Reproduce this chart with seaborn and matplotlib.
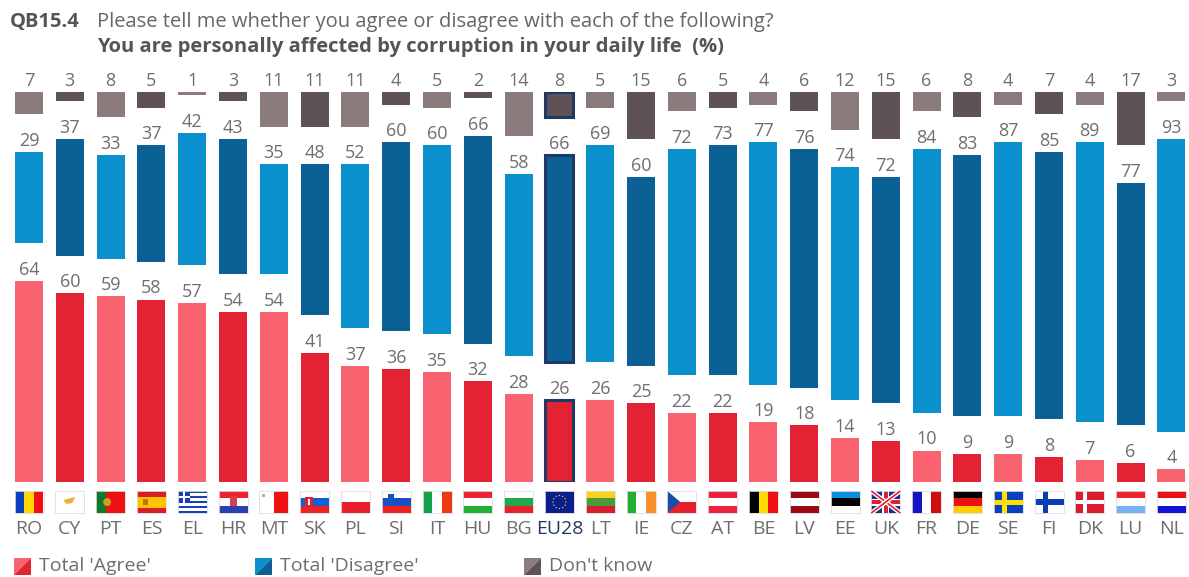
import numpy as np
import pandas as pd
import matplotlib
matplotlib.use("Agg")
import matplotlib.pyplot as plt
from matplotlib.patches import Rectangle, Polygon, Circle
import seaborn as sns

countries = ["RO", "CY", "PT", "ES", "EL", "HR", "MT", "SK", "PL", "SI", "IT", "HU", "BG", "EU28", "LT",
             "IE", "CZ", "AT", "BE", "LV", "EE", "UK", "FR", "DE", "SE", "FI", "DK", "LU", "NL"]
agree = [64, 60, 59, 58, 57, 54, 54, 41, 37, 36, 35, 32, 28, 26, 26, 25, 22, 22, 19, 18, 14, 13, 10, 9, 9, 8, 7, 6, 4]
disagree = [29, 37, 33, 37, 42, 43, 35, 48, 52, 60, 60, 66, 58, 66, 69, 60, 72, 73, 77, 76, 74, 72, 84, 83, 87, 85, 89, 77, 93]
dont_know = [7, 3, 8, 5, 1, 3, 11, 11, 11, 4, 5, 2, 14, 8, 5, 15, 6, 5, 4, 6, 12, 15, 6, 8, 4, 7, 4, 17, 3]

# gap between the three blocks of every column, in percentage points
GAP = 12
TOP = 100 + 2 * GAP

RED = ["#F9636F", "#E32233"]
BLUE = ["#0A90CC", "#0B6096"]
GREY = ["#8C7B7D", "#5E5257"]
NAVY = "#1F3864"
TEXT = "#6E6E6E"

# plain striped flags: direction and colours
stripes = {
    "RO": ("v", ["#0A3FBF", "#FFD800", "#EE1111"]),
    "PT": ("v", ["#11772D", "#EE1111", "#EE1111"]),
    "ES": ("h", ["#D81E28", "#FFC400", "#FFC400", "#D81E28"]),
    "HR": ("h", ["#EE2233", "#FFFFFF", "#2A3FB0"]),
    "MT": ("v", ["#FFFFFF", "#EE1111"]),
    "SK": ("h", ["#FFFFFF", "#1060D8", "#EE2222"]),
    "PL": ("h", ["#FFFFFF", "#E8202E"]),
    "SI": ("h", ["#FFFFFF", "#1A4FC0", "#EE2222"]),
    "IT": ("v", ["#12A24A", "#FFFFFF", "#EE3A12"]),
    "HU": ("h", ["#EE2233", "#FFFFFF", "#22B030"]),
    "BG": ("h", ["#FFFFFF", "#22A84A", "#E82030"]),
    "LT": ("h", ["#F7D417", "#4A9A3A", "#D81E2E"]),
    "IE": ("v", ["#22B030", "#FFFFFF", "#F7902A"]),
    "CZ": ("h", ["#FFFFFF", "#E8202E"]),
    "AT": ("h", ["#EE2040", "#FFFFFF", "#EE2040"]),
    "BE": ("v", ["#000000", "#FFDD00", "#EE1111"]),
    "LV": ("h", ["#9A0A14", "#FFFFFF", "#9A0A14"]),
    "EE": ("h", ["#0A90E0", "#000000", "#FFFFFF"]),
    "FR": ("v", ["#1414C0", "#FFFFFF", "#CC1010"]),
    "DE": ("h", ["#000000", "#EE1111", "#FFCC00"]),
    "LU": ("h", ["#EE2233", "#FFFFFF", "#7AB0F5"]),
    "NL": ("h", ["#EE1111", "#FFFFFF", "#1414D8"]),
}

sns.set_style("white")
plt.rcParams["font.family"] = ["Open Sans", "DejaVu Sans"]

W, H = 1189, 577
fig = plt.figure(figsize=(W / 100, H / 100), dpi=100, facecolor="white")

# column axes: baseline at y=482px, top at y=92px, first column at x=29px, step 40.8px
STEP = 40.8
X0 = 29
ax = fig.add_axes([0, (H - 482) / H, 1, 390 / H])
df = pd.DataFrame({"country": countries, "agree": agree, "disagree": disagree, "dont_know": dont_know})

bottoms = [None, df["agree"] + GAP, TOP - df["dont_know"]]
blocks = ["agree", "disagree", "dont_know"]
for col, bottom in zip(blocks, bottoms):
    kws = {} if bottom is None else {"bottom": bottom.to_numpy()}
    sns.barplot(data=df, x="country", y=col, color=RED[0], width=28 / STEP, saturation=1, errorbar=None, ax=ax, **kws)

for container, pal, col in zip(ax.containers, [RED, BLUE, GREY], blocks):
    for i, bar in enumerate(container):
        bar.set_facecolor(pal[i % 2])
        bar.set_linewidth(0)
        if countries[i] == "EU28":
            bar.set_edgecolor(NAVY)
            bar.set_linewidth(2.2)
    # bar_label would show the stacked total, so hand it the plain values
    ax.bar_label(container, labels=[str(v) for v in df[col]], padding=1.5, fontsize=13, color=TEXT, clip_on=False)

ax.set_xlim(-X0 / STEP, (W - X0) / STEP)
ax.set_ylim(0, TOP)
ax.set_xlabel("")
ax.set_ylabel("")
ax.set_yticks([])
ax.set_xticks(range(len(countries)), countries, fontsize=14, color=TEXT)
ax.tick_params(axis="x", length=0, pad=27)
ax.get_xticklabels()[countries.index("EU28")].set_color(NAVY)
sns.despine(ax=ax, left=True, bottom=True)
ax.patch.set_alpha(0)

# overlay in pixel coordinates for flags, heading and legend
ov = fig.add_axes([0, 0, 1, 1], zorder=5)
ov.set_xlim(0, W)
ov.set_ylim(H, 0)
ov.axis("off")

FW, FH = 29, 22
FY = 491


def rect(x, y, w, h, c):
    ov.add_patch(Rectangle((x, y), w, h, facecolor=c, edgecolor="none"))


def draw_flag(code, x):
    y = FY
    if code in stripes:
        kind, cols = stripes[code]
        n = len(cols)
        for k, c in enumerate(cols):
            if kind == "h":
                rect(x, y + k * FH / n, FW, FH / n, c)
            else:
                rect(x + k * FW / n, y, FW / n, FH, c)
    if code == "CY":
        rect(x, y, FW, FH, "#FFFFFF")
        ov.add_patch(Polygon([(x + 8, y + 9), (x + 20, y + 6), (x + 17, y + 12), (x + 11, y + 13)], facecolor="#E8B23A", edgecolor="none"))
    elif code == "PT":
        ov.add_patch(Circle((x + 11, y + FH / 2), 4, facecolor="#C9A020", edgecolor="none"))
    elif code == "ES":
        rect(x + 6, y + 8, 5, 6, "#C8701E")
    elif code == "EL":
        for k in range(9):
            rect(x, y + k * FH / 9, FW, FH / 9, "#1A3FB8" if k % 2 == 0 else "#FFFFFF")
        rect(x, y, 12, 12, "#1A3FB8")
        rect(x + 5, y, 2.4, 12, "#FFFFFF")
        rect(x, y + 5, 12, 2.4, "#FFFFFF")
    elif code == "HR":
        rect(x + 11, y + 5, 7, 10, "#D84050")
    elif code == "MT":
        rect(x + 3, y + 3, 3, 3, "#B0B0B0")
    elif code == "SK":
        rect(x + 5, y + 6, 8, 10, "#E02030")
        rect(x + 8, y + 8, 2, 6, "#FFFFFF")
    elif code == "SI":
        rect(x + 6, y + 3, 6, 6, "#1A4FC0")
    elif code == "CZ":
        ov.add_patch(Polygon([(x, y), (x + 13, y + FH / 2), (x, y + FH)], facecolor="#1A4FA8", edgecolor="none"))
    elif code == "EU28":
        rect(x, y, FW, FH, "#0A1F8C")
        for a in np.arange(0, 360, 30):
            ov.add_patch(Circle((x + FW / 2 + 6.5 * np.cos(np.radians(a)), y + FH / 2 + 6.5 * np.sin(np.radians(a))), 0.7, facecolor="#E8D030", edgecolor="none"))
    elif code == "UK":
        rect(x, y, FW, FH, "#1A2F8C")
        for seg in [((x, y), (x + FW, y + FH)), ((x + FW, y), (x, y + FH))]:
            ov.plot(*zip(*seg), color="#FFFFFF", lw=3.2, solid_capstyle="butt")
            ov.plot(*zip(*seg), color="#E02030", lw=1.2, solid_capstyle="butt")
        rect(x + 11, y, 7, FH, "#FFFFFF")
        rect(x, y + 7.5, FW, 7, "#FFFFFF")
        rect(x + 12.5, y, 4, FH, "#E02030")
        rect(x, y + 9, FW, 4, "#E02030")
    elif code == "SE":
        rect(x, y, FW, FH, "#0A3FC0")
        rect(x + 8, y, 5, FH, "#FFE000")
        rect(x, y + 8.5, FW, 5, "#FFE000")
    elif code == "FI":
        rect(x, y, FW, FH, "#FFFFFF")
        rect(x + 8, y, 5.5, FH, "#0A3FB0")
        rect(x, y + 8, FW, 5.5, "#0A3FB0")
    elif code == "DK":
        rect(x, y, FW, FH, "#D81E2E")
        rect(x + 8, y, 3.5, FH, "#FFFFFF")
        rect(x, y + 9, FW, 3.5, "#FFFFFF")
    # thin frame so that white parts stay visible
    ov.add_patch(Rectangle((x, y), FW, FH, facecolor="none", edgecolor="#DDDDDD", lw=0.6))


for i, code in enumerate(countries):
    draw_flag(code, X0 + STEP * i - FW / 2)

# heading
ov.text(10, 22, "QB15.4", fontsize=14.5, fontweight="bold", color="#555555", va="center")
ov.text(97, 22, "Please tell me whether you agree or disagree with each of the following?", fontsize=14.5, color="#666666", va="center")
ov.text(97, 47, "You are personally affected by corruption in your daily life  (%)", fontsize=14.5, fontweight="bold", color="#555555", va="center")

# legend
legend_items = [("Total 'Agree'", RED, 14), ("Total 'Disagree'", BLUE, 255), ("Don't know", GREY, 524)]
for label, pal, x in legend_items:
    y, s = 558, 17
    ov.add_patch(Polygon([(x, y), (x + s, y), (x, y + s)], facecolor=pal[0], edgecolor="none"))
    ov.add_patch(Polygon([(x + s, y), (x + s, y + s), (x, y + s)], facecolor=pal[1], edgecolor="none"))
    ov.text(x + s + 8, 566, label, fontsize=14, color=TEXT, va="center")

fig.savefig("out.png", dpi=100)
